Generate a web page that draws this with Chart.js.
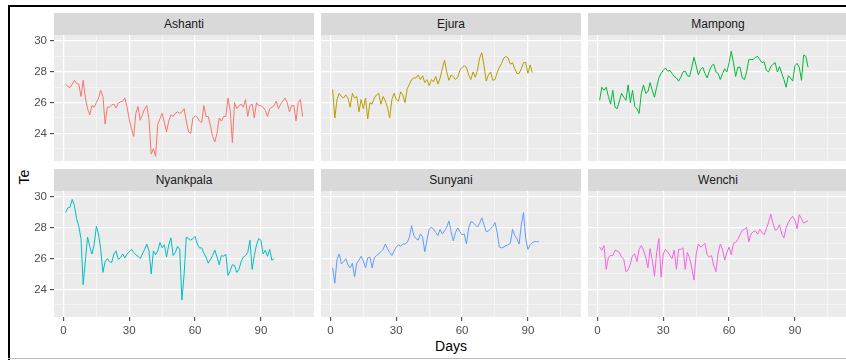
<!DOCTYPE html>
<html>
<head>
<meta charset="utf-8">
<script src="https://cdn.jsdelivr.net/npm/chart.js@4.4.1/dist/chart.umd.min.js"></script>
<style>
  html, body { margin: 0; padding: 0; background: #fff; }
  #wrap { position: relative; width: 846px; height: 360px; overflow: hidden; font-family: "Liberation Sans", Arial, sans-serif; }
  .frame { position: absolute; background: #000; }
  .strip { position: absolute; height: 22px; line-height: 23px; background: #d9d9d9; color: #1a1a1a; font-size: 12px; text-align: center; }
  canvas { position: absolute; }
  .axis-title { position: absolute; font-size: 14px; color: #000; line-height: 14px; }
</style>
</head>
<body>
<div id="wrap">
  <div class="frame" style="left:8px;top:5px;width:2px;height:355px"></div>
  <div class="frame" style="left:8px;top:5px;width:838px;height:2px"></div>
  <div class="frame" style="left:8px;top:358px;width:838px;height:1px;background:#bdbdbd"></div>
  <div class="axis-title" style="left:451px;top:339px;transform:translateX(-50%)">Days</div>
  <div class="axis-title" style="left:24px;top:177px;transform:translate(-50%,-50%) rotate(-90deg)">Te</div>
</div>
<script>
// ==================== DATA ====================
const stations = ['Ashanti', 'Ejura', 'Mampong', 'Nyankpala', 'Sunyani', 'Wenchi'];
const colours = ['#F8766D', '#B79F00', '#00BA38', '#00BFC4', '#619CFF', '#F564E3'];

const ashanti = [
  27.2, 27.05, 26.98, 27.2, 27.45, 27.25, 27.2, 26.4, 27.45, 26.3,
  25.6, 25.2, 25.8, 25.7, 26.0, 26.3, 26.8, 26.4, 24.6, 25.7,
  25.7, 25.85, 25.9, 25.65, 25.95, 26.05, 26.1, 26.3, 25.7, 24.9,
  24.3, 23.8, 25.3, 25.75, 24.85, 25.2, 25.6, 25.8, 24.9, 22.65,
  23.0, 22.5, 24.6, 24.95, 25.3, 24.7, 24.1, 24.8, 25.2, 25.1,
  25.3, 25.4, 25.3, 25.4, 25.6, 24.8, 24.1, 24.0, 25.0, 25.15,
  25.05, 24.8, 24.7, 25.8, 25.1, 25.1, 24.5, 23.8, 23.45, 24.0,
  25.0, 24.8, 25.1, 25.1, 26.3, 25.5, 23.4, 26.0, 25.6, 25.8,
  25.9, 25.7, 26.2, 25.1, 25.8, 25.9, 25.0, 26.0, 25.8, 25.8,
  25.7, 25.5, 25.1, 25.6, 25.7, 25.8, 26.1, 25.6, 25.9, 26.1,
  26.3, 26.0, 25.4, 25.8, 25.8, 24.8, 26.0, 26.2, 25.1
];
const ejura = [
  26.85, 25.0, 26.2, 26.6, 26.4, 26.3, 26.5, 26.3, 25.7, 26.6,
  26.3, 26.4, 25.4, 26.2, 25.6, 26.3, 24.95, 26.0, 25.9, 26.3,
  26.5, 26.6, 25.9, 26.4, 26.1, 25.7, 25.0, 26.2, 26.6, 26.2,
  26.1, 26.7, 26.5, 26.0, 26.9, 27.2, 27.5, 27.6, 27.6, 27.8,
  27.5, 27.75, 27.3, 27.5, 27.1, 27.5, 27.35, 27.7, 27.2, 27.6,
  28.2, 28.75, 28.0, 27.45, 27.8, 27.7, 27.5, 27.65, 28.1, 28.3,
  28.4, 28.3, 27.8, 27.5, 28.0, 27.65, 28.1, 28.9, 29.25, 28.4,
  27.4, 27.8, 28.0, 27.45, 27.5, 27.95, 28.3, 28.55, 28.9, 29.0,
  28.9, 28.5, 28.6, 28.2, 27.9, 27.9, 28.2, 28.6, 28.6, 27.9,
  28.45, 27.95
];
const mampong = [
  26.15, 27.0, 26.8, 27.0, 26.4, 25.9, 26.8, 25.7, 25.6, 26.1,
  26.6, 26.35, 26.15, 27.15, 26.0, 26.8, 25.75, 25.6, 25.3, 26.6,
  27.15, 26.6, 26.7, 27.3, 26.8, 26.35, 27.0, 27.6, 27.9, 28.1,
  28.25, 28.05, 28.1, 27.9, 27.7, 27.6, 27.4, 27.65, 28.0, 28.05,
  27.75, 27.7, 28.3, 28.95, 28.4, 27.8, 28.15, 28.3, 27.9, 27.6,
  28.05, 28.4, 28.5, 28.0, 27.9, 27.5, 27.9, 28.2, 28.0, 28.6,
  29.35, 28.6, 27.7, 28.3, 28.3, 27.6, 27.5, 28.0, 28.8, 28.8,
  28.8, 28.95, 29.0, 28.8, 28.6, 28.65, 28.1, 28.0, 28.35, 28.5,
  28.6, 28.0, 28.35, 27.9, 27.5, 27.0, 27.75, 27.6, 27.4, 28.4,
  28.55, 28.3, 27.45, 29.1, 29.0, 28.3
];
const nyankpala = [
  29.0, 29.3, 29.35, 29.85, 29.45, 28.6, 28.1, 27.3, 24.3, 25.9,
  27.4, 26.8, 26.3, 26.9, 28.1, 27.6, 26.6, 25.1, 25.8, 26.0,
  25.8, 25.75, 26.3, 26.5, 25.95, 26.05, 26.3, 26.05, 26.3, 26.45,
  26.6, 26.4, 26.25, 26.15, 26.0, 26.3, 26.6, 26.95, 26.5, 25.0,
  26.5, 26.25, 26.5, 27.05, 26.7, 26.9, 26.1, 26.9, 27.35, 26.2,
  26.4, 26.8, 26.6, 23.3, 25.0, 27.4, 27.3, 27.2, 27.3, 27.45,
  26.95, 26.7, 26.7, 26.35, 26.1, 25.7, 25.95, 26.2, 26.55, 26.1,
  25.6, 26.2, 26.15, 26.3, 24.9, 25.2, 25.6, 25.55, 25.1, 25.3,
  25.8, 26.1, 26.2, 26.4, 27.2, 25.3, 26.2, 26.9, 27.3, 27.2,
  26.3, 26.55, 26.15, 26.6, 25.9, 26.0
];
const sunyani = [
  25.4, 24.4, 25.95, 26.3, 25.65, 25.8, 26.0, 25.6, 25.4, 25.7,
  24.8, 25.7, 25.9, 26.15, 25.85, 25.4, 26.05, 26.1, 25.4, 26.05,
  26.2, 26.3, 26.45, 26.6, 26.95, 26.65, 26.4, 26.2, 26.5, 26.75,
  26.9, 26.8, 26.95, 26.95, 27.05, 27.4, 28.15, 27.5, 27.3, 27.2,
  27.6, 27.4, 26.45, 27.2, 27.9, 28.05, 27.9, 27.7, 27.5, 27.9,
  27.6, 27.8, 28.05, 28.45, 27.75, 27.15, 27.7, 28.0, 27.75, 27.55,
  27.6, 26.95, 28.0, 28.4, 28.35, 28.2, 28.05, 28.3, 28.65, 28.2,
  27.75, 27.8, 27.95, 28.1, 28.35, 27.7, 26.75, 26.7, 26.75, 26.85,
  26.9, 27.0, 27.9, 27.5, 27.3, 26.95, 28.2, 29.0, 27.3, 26.6,
  26.9, 27.05, 27.1, 27.1, 27.1
];
const wenchi = [
  26.75, 26.55, 26.85, 25.3, 26.1, 26.2, 26.2, 26.55, 26.5, 26.4,
  26.1, 25.95, 25.15, 25.25, 25.65, 26.2, 26.3, 25.8, 26.6, 26.85,
  26.55, 26.1, 25.4, 26.65, 25.9, 24.85, 26.4, 27.3, 24.8, 26.3,
  26.6, 26.45, 26.2, 26.0, 26.55, 25.3, 26.6, 26.6, 26.7, 25.3,
  26.4, 26.05, 25.4, 24.6, 26.3, 26.95, 26.75, 26.85, 27.0, 26.25,
  26.1, 26.2, 25.55, 25.15, 26.35, 26.95, 26.6, 25.9, 26.4, 26.75,
  26.25, 27.0, 27.05, 27.25, 27.55, 27.85, 27.9, 28.05, 27.1, 27.6,
  27.75, 27.8, 27.6, 27.9, 27.7, 27.55, 27.95, 28.35, 28.9, 28.3,
  27.85, 27.9, 28.2, 27.6, 27.35, 28.0, 28.35, 28.6, 28.75, 28.5,
  27.95, 28.85, 28.6, 28.3, 28.4, 28.45
];
const series = [ashanti, ejura, mampong, nyankpala, sunyani, wenchi];

const xTicks = [0, 15, 30, 45, 60, 75, 90, 105];
const yTicks = [23, 24, 25, 26, 27, 28, 29, 30];
const xRange = [-4.3, 114.2];
const yRange = [22.2, 30.4];

// ==================== LAYOUT ====================
const colLeft = [54, 321, 588];
const rowTop = [35, 191];
const panelW = 260, panelH = 126, stripH = 22;
const yAxisW = 44, xAxisH = 22;

Chart.defaults.font.family = '"Liberation Sans", Arial, sans-serif';
Chart.defaults.font.size = 11.5;

const panelBg = {
  id: 'panelBg',
  beforeDraw(chart) {
    const { ctx, chartArea: a } = chart;
    ctx.save();
    ctx.fillStyle = '#EBEBEB';
    ctx.fillRect(a.left, a.top, a.right - a.left, a.bottom - a.top);
    ctx.restore();
  }
};

function axisOpts(range, ticks, isMajor, show, fitFn) {
  return {
    type: 'linear',
    min: range[0],
    max: range[1],
    bounds: 'data',
    border: { display: false },
    grid: {
      color: c => isMajor(c.tick.value) ? '#FFFFFF' : '#F6F6F6',
      lineWidth: c => isMajor(c.tick.value) ? 1.3 : 0.8,
      drawTicks: show,
      tickLength: 4,
      tickWidth: 1,
      tickColor: c => isMajor(c.tick.value) ? '#333333' : 'rgba(0,0,0,0)'
    },
    ticks: {
      display: show,
      color: '#4D4D4D',
      padding: 3,
      autoSkip: false,
      maxRotation: 0,
      callback: v => isMajor(v) ? String(v) : ''
    },
    afterBuildTicks: s => { s.ticks = ticks.map(v => ({ value: v })); },
    afterFit: fitFn
  };
}

const wrap = document.getElementById('wrap');

stations.forEach((name, i) => {
  const col = i % 3, row = Math.floor(i / 3);
  const showY = col === 0, showX = row === 1;
  const left = colLeft[col] - (showY ? yAxisW : 0);
  const top = rowTop[row];
  const w = panelW + (showY ? yAxisW : 0);
  const h = panelH + (showX ? xAxisH : 0);

  const strip = document.createElement('div');
  strip.className = 'strip';
  strip.style.left = colLeft[col] + 'px';
  strip.style.top = (top - stripH) + 'px';
  strip.style.width = panelW + 'px';
  strip.textContent = name;
  wrap.appendChild(strip);

  const cv = document.createElement('canvas');
  cv.width = w; cv.height = h;
  cv.style.left = left + 'px';
  cv.style.top = top + 'px';
  wrap.appendChild(cv);

  new Chart(cv.getContext('2d'), {
    type: 'line',
    data: {
      datasets: [{
        data: series[i].map((v, k) => ({ x: k + 1, y: v })),
        borderColor: colours[i],
        borderWidth: 1,
        pointRadius: 0,
        tension: 0,
        fill: false
      }]
    },
    options: {
      responsive: false,
      animation: false,
      layout: { padding: 0 },
      plugins: { legend: { display: false }, tooltip: { enabled: false } },
      scales: {
        x: axisOpts(xRange, xTicks, v => v % 30 === 0, showX, s => {
          s.height = showX ? xAxisH : 0; s.paddingLeft = 0; s.paddingRight = 0;
        }),
        y: axisOpts(yRange, yTicks, v => v % 2 === 0, showY, s => {
          s.width = showY ? yAxisW : 0; s.paddingTop = 0; s.paddingBottom = 0;
        })
      }
    },
    plugins: [panelBg]
  });
});
</script>
</body>
</html>
